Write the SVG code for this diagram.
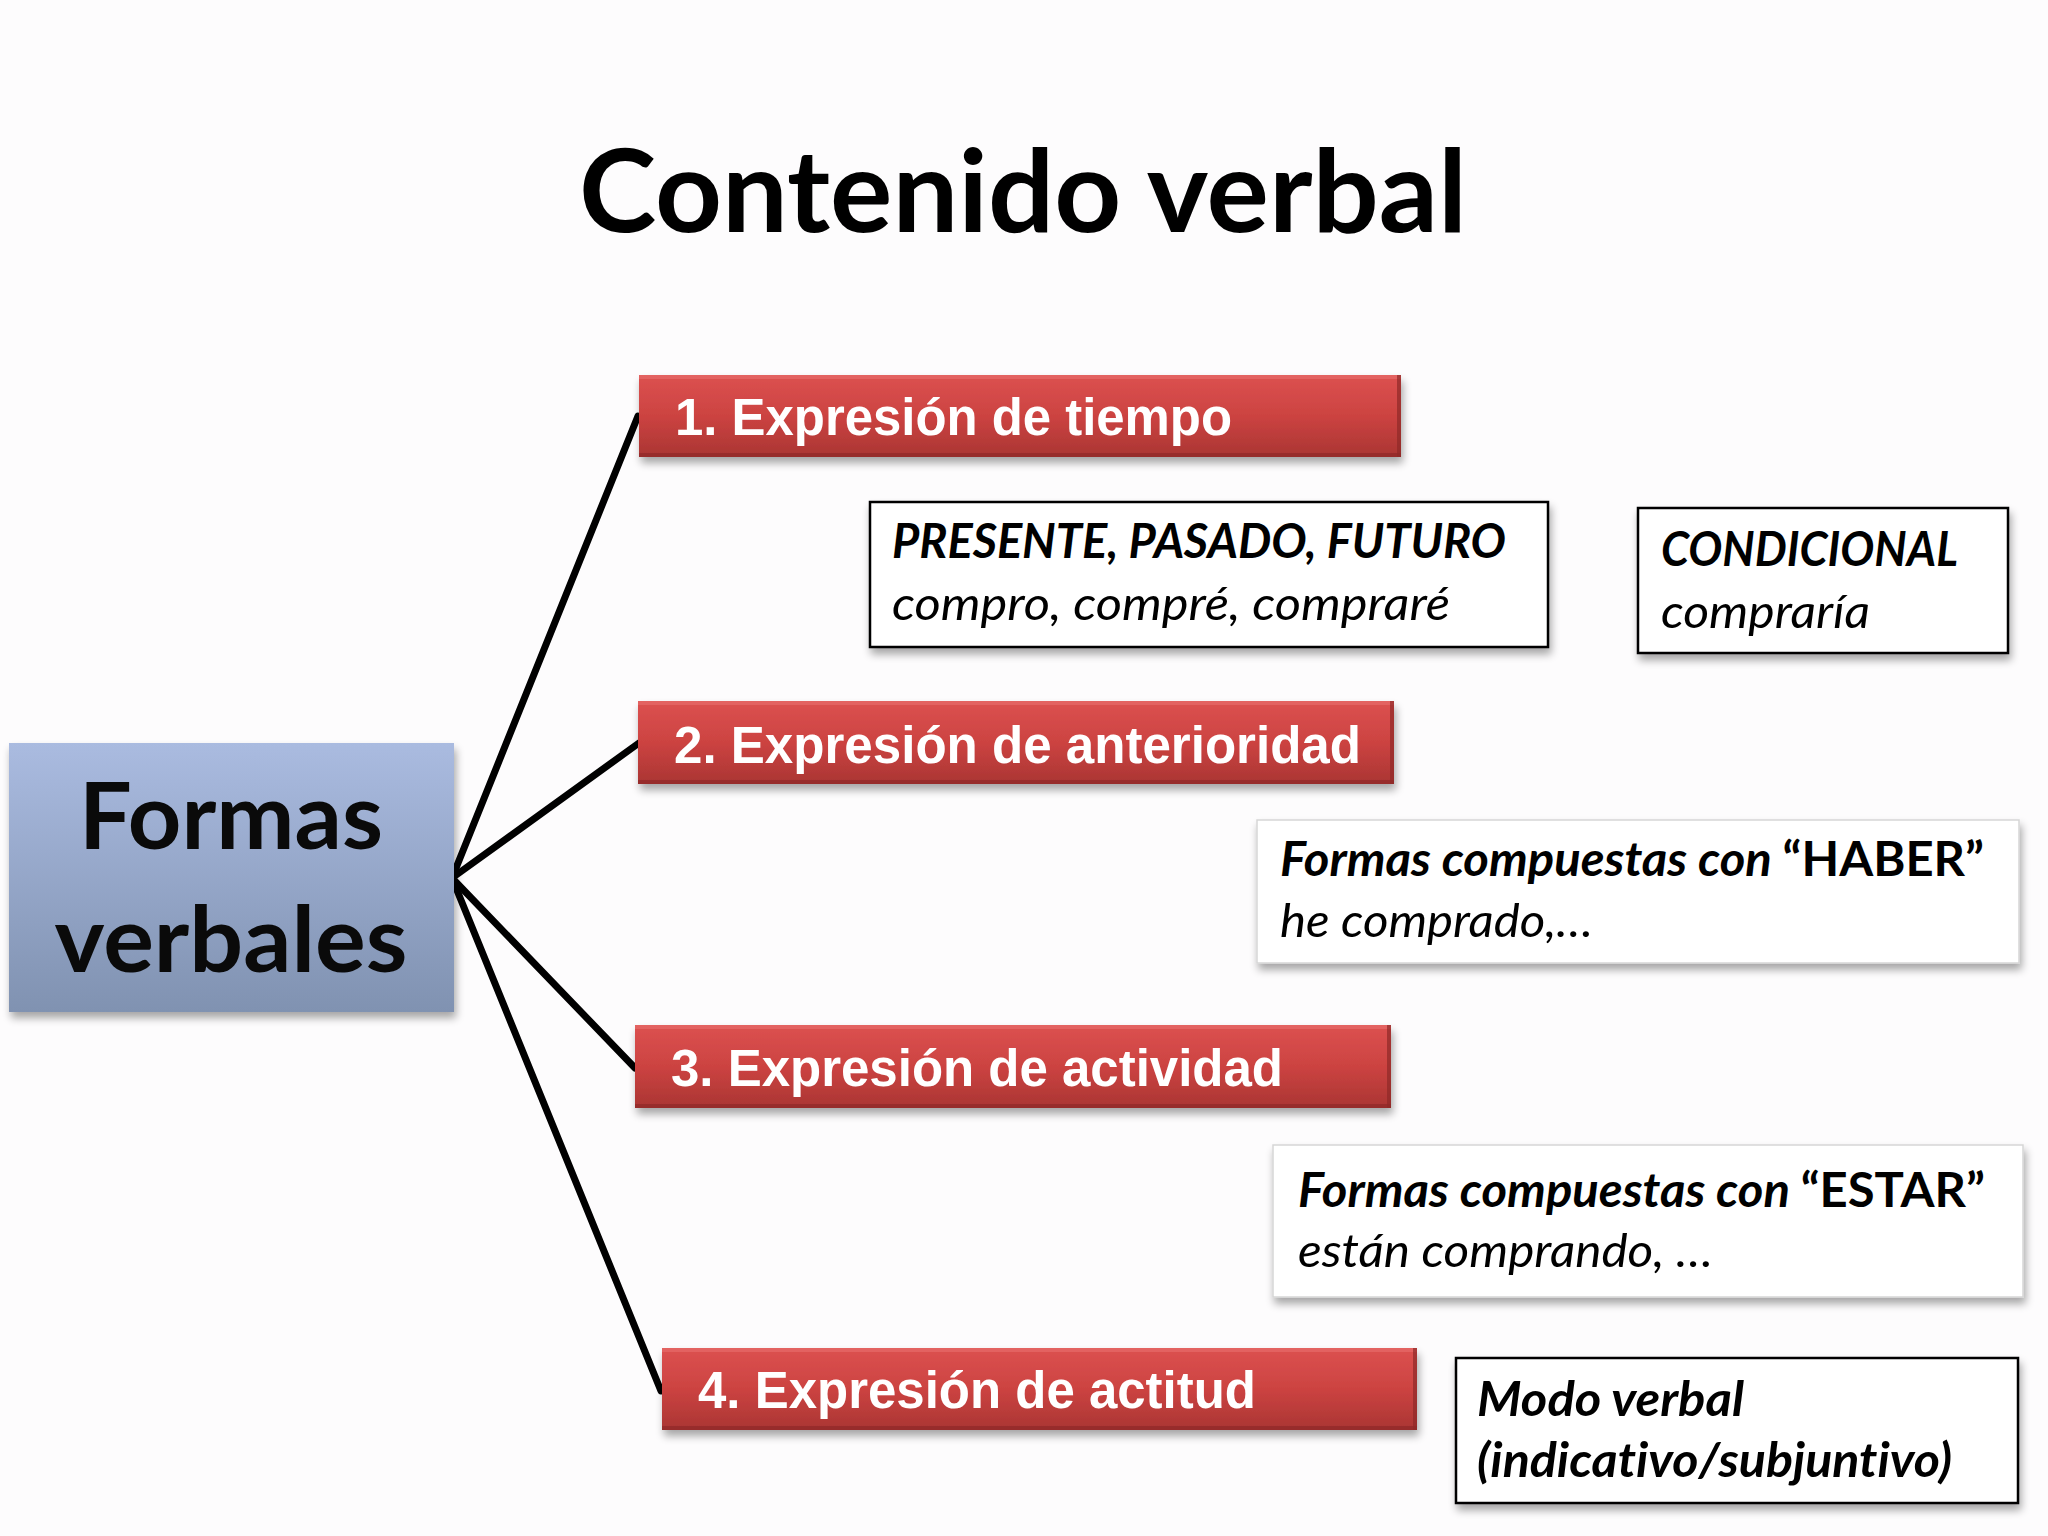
<svg xmlns="http://www.w3.org/2000/svg" width="2048" height="1536" viewBox="0 0 2048 1536">
  <defs>
    <linearGradient id="redGrad" x1="0" y1="0" x2="0" y2="1">
      <stop offset="0" stop-color="#dc5150"/>
      <stop offset="0.5" stop-color="#cc4341"/>
      <stop offset="1" stop-color="#aa3533"/>
    </linearGradient>
    <linearGradient id="blueGrad" x1="0" y1="0" x2="0" y2="1">
      <stop offset="0" stop-color="#aabbe0"/>
      <stop offset="1" stop-color="#8092b1"/>
    </linearGradient>
    <filter id="shadow" x="-10%" y="-20%" width="120%" height="150%">
      <feGaussianBlur in="SourceAlpha" stdDeviation="4"/>
      <feOffset dx="2" dy="6" result="b"/>
      <feComponentTransfer><feFuncA type="linear" slope="0.35"/></feComponentTransfer>
      <feMerge><feMergeNode/><feMergeNode in="SourceGraphic"/></feMerge>
    </filter>
    <style>
      text { font-variant-ligatures: none; font-feature-settings: "liga" 0, "dlig" 0; }
      .title { font-family: Lato, "Open Sans", sans-serif; font-weight: 700; font-size: 114px; fill: #000; }
      .hub { font-family: Lato, "Open Sans", sans-serif; font-weight: 700; font-size: 92px; fill: #0a0a0a; text-anchor: middle; }
      .redbox { fill: url(#redGrad); }
      .hl { fill: #e8706e; opacity: 0.6; }
      .dk { fill: #8e2a28; opacity: 0.7; }
      .redtxt { font-family: "Liberation Sans", Arial, sans-serif; font-weight: 700; font-size: 51px; fill: #ffffff; }
      .wbox { fill: #ffffff; stroke: #000000; stroke-width: 2.5; }
      .wbox2 { fill: #ffffff; stroke: #d6d6d6; stroke-width: 1.5; }
      .bi { font-family: Lato, "Open Sans", sans-serif; font-weight: 700; font-style: italic; font-size: 47px; fill: #000; }
      .it { font-family: Lato, "Open Sans", sans-serif; font-weight: 400; font-style: italic; font-size: 47px; fill: #000; }
      .up { font-style: normal; }
      .conn { stroke: #000000; stroke-width: 7; fill: none; stroke-linecap: round; }
    </style>
  </defs>
  <rect x="0" y="0" width="2048" height="1536" fill="#fdfcfd"/>

  <text class="title" x="579" y="232" textLength="888" lengthAdjust="spacingAndGlyphs">Contenido verbal</text>

  <g id="connectors">
    <line class="conn" x1="452" y1="878" x2="638" y2="416"/>
    <line class="conn" x1="452" y1="878" x2="639" y2="743"/>
    <line class="conn" x1="452" y1="878" x2="635" y2="1068"/>
    <line class="conn" x1="452" y1="878" x2="661" y2="1391"/>
  </g>

  <g id="formas-verbales">
    <rect x="9" y="743" width="445" height="269" fill="url(#blueGrad)" filter="url(#shadow)"/>
    <text class="hub" x="231" y="849" textLength="304" lengthAdjust="spacingAndGlyphs">Formas</text>
    <text class="hub" x="231" y="972" textLength="353" lengthAdjust="spacingAndGlyphs">verbales</text>
  </g>

  <g id="expr-tiempo">
    <rect class="redbox" x="639" y="375" width="762" height="82" filter="url(#shadow)"/>
    <rect class="hl" x="639" y="375" width="762" height="4"/>
    <rect class="dk" x="1397" y="375" width="4" height="82"/>
    <rect class="dk" x="639" y="453" width="762" height="4"/>
    <text class="redtxt" x="675" y="435" textLength="557" lengthAdjust="spacingAndGlyphs">1. Expresión de tiempo</text>
  </g>

  <g id="expr-anterioridad">
    <rect class="redbox" x="638" y="701" width="756" height="83" filter="url(#shadow)"/>
    <rect class="hl" x="638" y="701" width="756" height="4"/>
    <rect class="dk" x="1390" y="701" width="4" height="83"/>
    <rect class="dk" x="638" y="780" width="756" height="4"/>
    <text class="redtxt" x="674" y="763" textLength="687" lengthAdjust="spacingAndGlyphs">2. Expresión de anterioridad</text>
  </g>

  <g id="expr-actividad">
    <rect class="redbox" x="635" y="1025" width="756" height="83" filter="url(#shadow)"/>
    <rect class="hl" x="635" y="1025" width="756" height="4"/>
    <rect class="dk" x="1387" y="1025" width="4" height="83"/>
    <rect class="dk" x="635" y="1104" width="756" height="4"/>
    <text class="redtxt" x="671" y="1086" textLength="612" lengthAdjust="spacingAndGlyphs">3. Expresión de actividad</text>
  </g>

  <g id="expr-actitud">
    <rect class="redbox" x="662" y="1348" width="755" height="82" filter="url(#shadow)"/>
    <rect class="hl" x="662" y="1348" width="755" height="4"/>
    <rect class="dk" x="1413" y="1348" width="4" height="82"/>
    <rect class="dk" x="662" y="1426" width="755" height="4"/>
    <text class="redtxt" x="698" y="1408" textLength="558" lengthAdjust="spacingAndGlyphs">4. Expresión de actitud</text>
  </g>

  <g id="presente-pasado-futuro">
    <rect class="wbox" x="870" y="502" width="678" height="145" filter="url(#shadow)"/>
    <text class="bi" x="892" y="558" textLength="614" lengthAdjust="spacingAndGlyphs">PRESENTE, PASADO, FUTURO</text>
    <text class="it" x="892" y="620" textLength="558" lengthAdjust="spacingAndGlyphs">compro, compré, compraré</text>
  </g>

  <g id="condicional">
    <rect class="wbox" x="1638" y="508" width="370" height="145" filter="url(#shadow)"/>
    <text class="bi" x="1661" y="566" textLength="297" lengthAdjust="spacingAndGlyphs">CONDICIONAL</text>
    <text class="it" x="1661" y="628" textLength="209" lengthAdjust="spacingAndGlyphs">compraría</text>
  </g>

  <g id="haber">
    <rect class="wbox2" x="1257" y="820" width="762" height="143" filter="url(#shadow)"/>
    <text class="bi" x="1280" y="876" textLength="704" lengthAdjust="spacingAndGlyphs">Formas compuestas con <tspan class="up">“HABER”</tspan></text>
    <text class="it" x="1280" y="937" textLength="313" lengthAdjust="spacingAndGlyphs">he comprado,…</text>
  </g>

  <g id="estar">
    <rect class="wbox2" x="1273" y="1145" width="750" height="152" filter="url(#shadow)"/>
    <text class="bi" x="1298" y="1207" textLength="687" lengthAdjust="spacingAndGlyphs">Formas compuestas con <tspan class="up">“ESTAR”</tspan></text>
    <text class="it" x="1298" y="1267" textLength="415" lengthAdjust="spacingAndGlyphs">están comprando, …</text>
  </g>

  <g id="modo-verbal">
    <rect class="wbox" x="1456" y="1358" width="562" height="145" filter="url(#shadow)"/>
    <text class="bi" x="1477" y="1416" textLength="267" lengthAdjust="spacingAndGlyphs">Modo verbal</text>
    <text class="bi" x="1477" y="1477" textLength="475" lengthAdjust="spacingAndGlyphs">(indicativo/subjuntivo)</text>
  </g>
</svg>
